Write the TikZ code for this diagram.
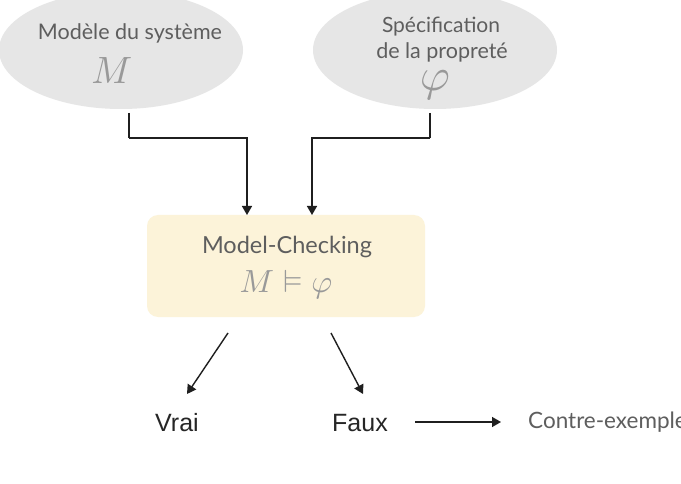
\documentclass[tikz,border=0pt]{standalone}
\usepackage{amssymb}
\usepackage{graphicx}
\usepackage{fontspec}
\setmainfont{Lato}
\newfontfamily\arialf{Liberation Sans}
\usetikzlibrary{arrows.meta,shapes.geometric}
\definecolor{ellfill}{HTML}{E6E6E6}
\definecolor{boxfill}{HTML}{FCF3D9}
\definecolor{txtgray}{HTML}{5E5E5E}
\definecolor{mathgray}{HTML}{999999}
\begin{document}
\begin{tikzpicture}[x=1pt,y=-1pt,
  ell/.style={ellipse,fill=ellfill,draw=none,minimum width=244pt,minimum height=118pt,inner sep=0pt},
  lbl/.style={text=txtgray,inner sep=0pt},
  mth/.style={text=mathgray,inner sep=0pt},
  res/.style={text=black!85,font=\arialf\fontsize{25}{28}\selectfont,inner sep=0pt},
  arr/.style={draw=black!88,line width=1.4pt,-{Triangle[length=9pt,width=10pt]}},
  con/.style={draw=black!88,line width=1.4pt}]
\clip (0,0) rectangle (681,484);
\fill[white] (0,0) rectangle (681,484);
% ellipses
\node[ell] (e1) at (121,50) {};
\node[ell] (e2) at (435,50) {};
\node[lbl,font=\fontsize{21.5}{24}\selectfont] (t1) at (130,33) {Modèle du système};
\node[mth] (m1) at (112,71) {\scalebox{3.8}{$M$}};
\node[lbl,font=\fontsize{21}{24}\selectfont] (t2a) at (441,27) {Spécification};
\node[lbl,font=\fontsize{21.5}{24}\selectfont] (t2b) at (442,52) {de la propreté};
\node[mth] (p1) at (435,85) {\scalebox{4.6}{$\varphi$}};
% box
\node[fill=boxfill,rounded corners=11pt,minimum width=278pt,minimum height=102pt,inner sep=0pt] (mc) at (286,266) {};
\node[lbl,font=\fontsize{23.5}{26}\selectfont] (mct) at (287,247) {Model-Checking};
\node[mth] (mcm) at (286,285) {\scalebox{3.2}{$M \vDash \varphi$}};
% results
\node[res] (vrai) at (177,423) {Vrai};
\node[res] (faux) at (360,423) {Faux};
\node[lbl,font=\fontsize{22.5}{25}\selectfont,anchor=west] (ce) at (528,422) {Contre-exemple};
% coordinates
\coordinate (s1) at (129,113);
\coordinate (s2) at (430,113);
\coordinate (k1) at (129,138);
\coordinate (k2) at (430,138);
\coordinate (in1) at (247,215);
\coordinate (in2) at (312,215);
\coordinate (o1) at (228,333);
\coordinate (o2) at (331,333);
\coordinate (v1) at (187,394);
\coordinate (f1) at (363,394);
\coordinate (c0) at (415,422);
\coordinate (c1) at (501,422);
% connectors
\draw[con] (s1) -- (k1);
\draw[arr] (k1) -| (in1);
\draw[con] (s2) -- (k2);
\draw[arr] (k2) -| (in2);
\draw[arr] (o1) -- (v1);
\draw[arr] (o2) -- (f1);
\draw[arr] (c0) -- (c1);
\end{tikzpicture}
\end{document}
